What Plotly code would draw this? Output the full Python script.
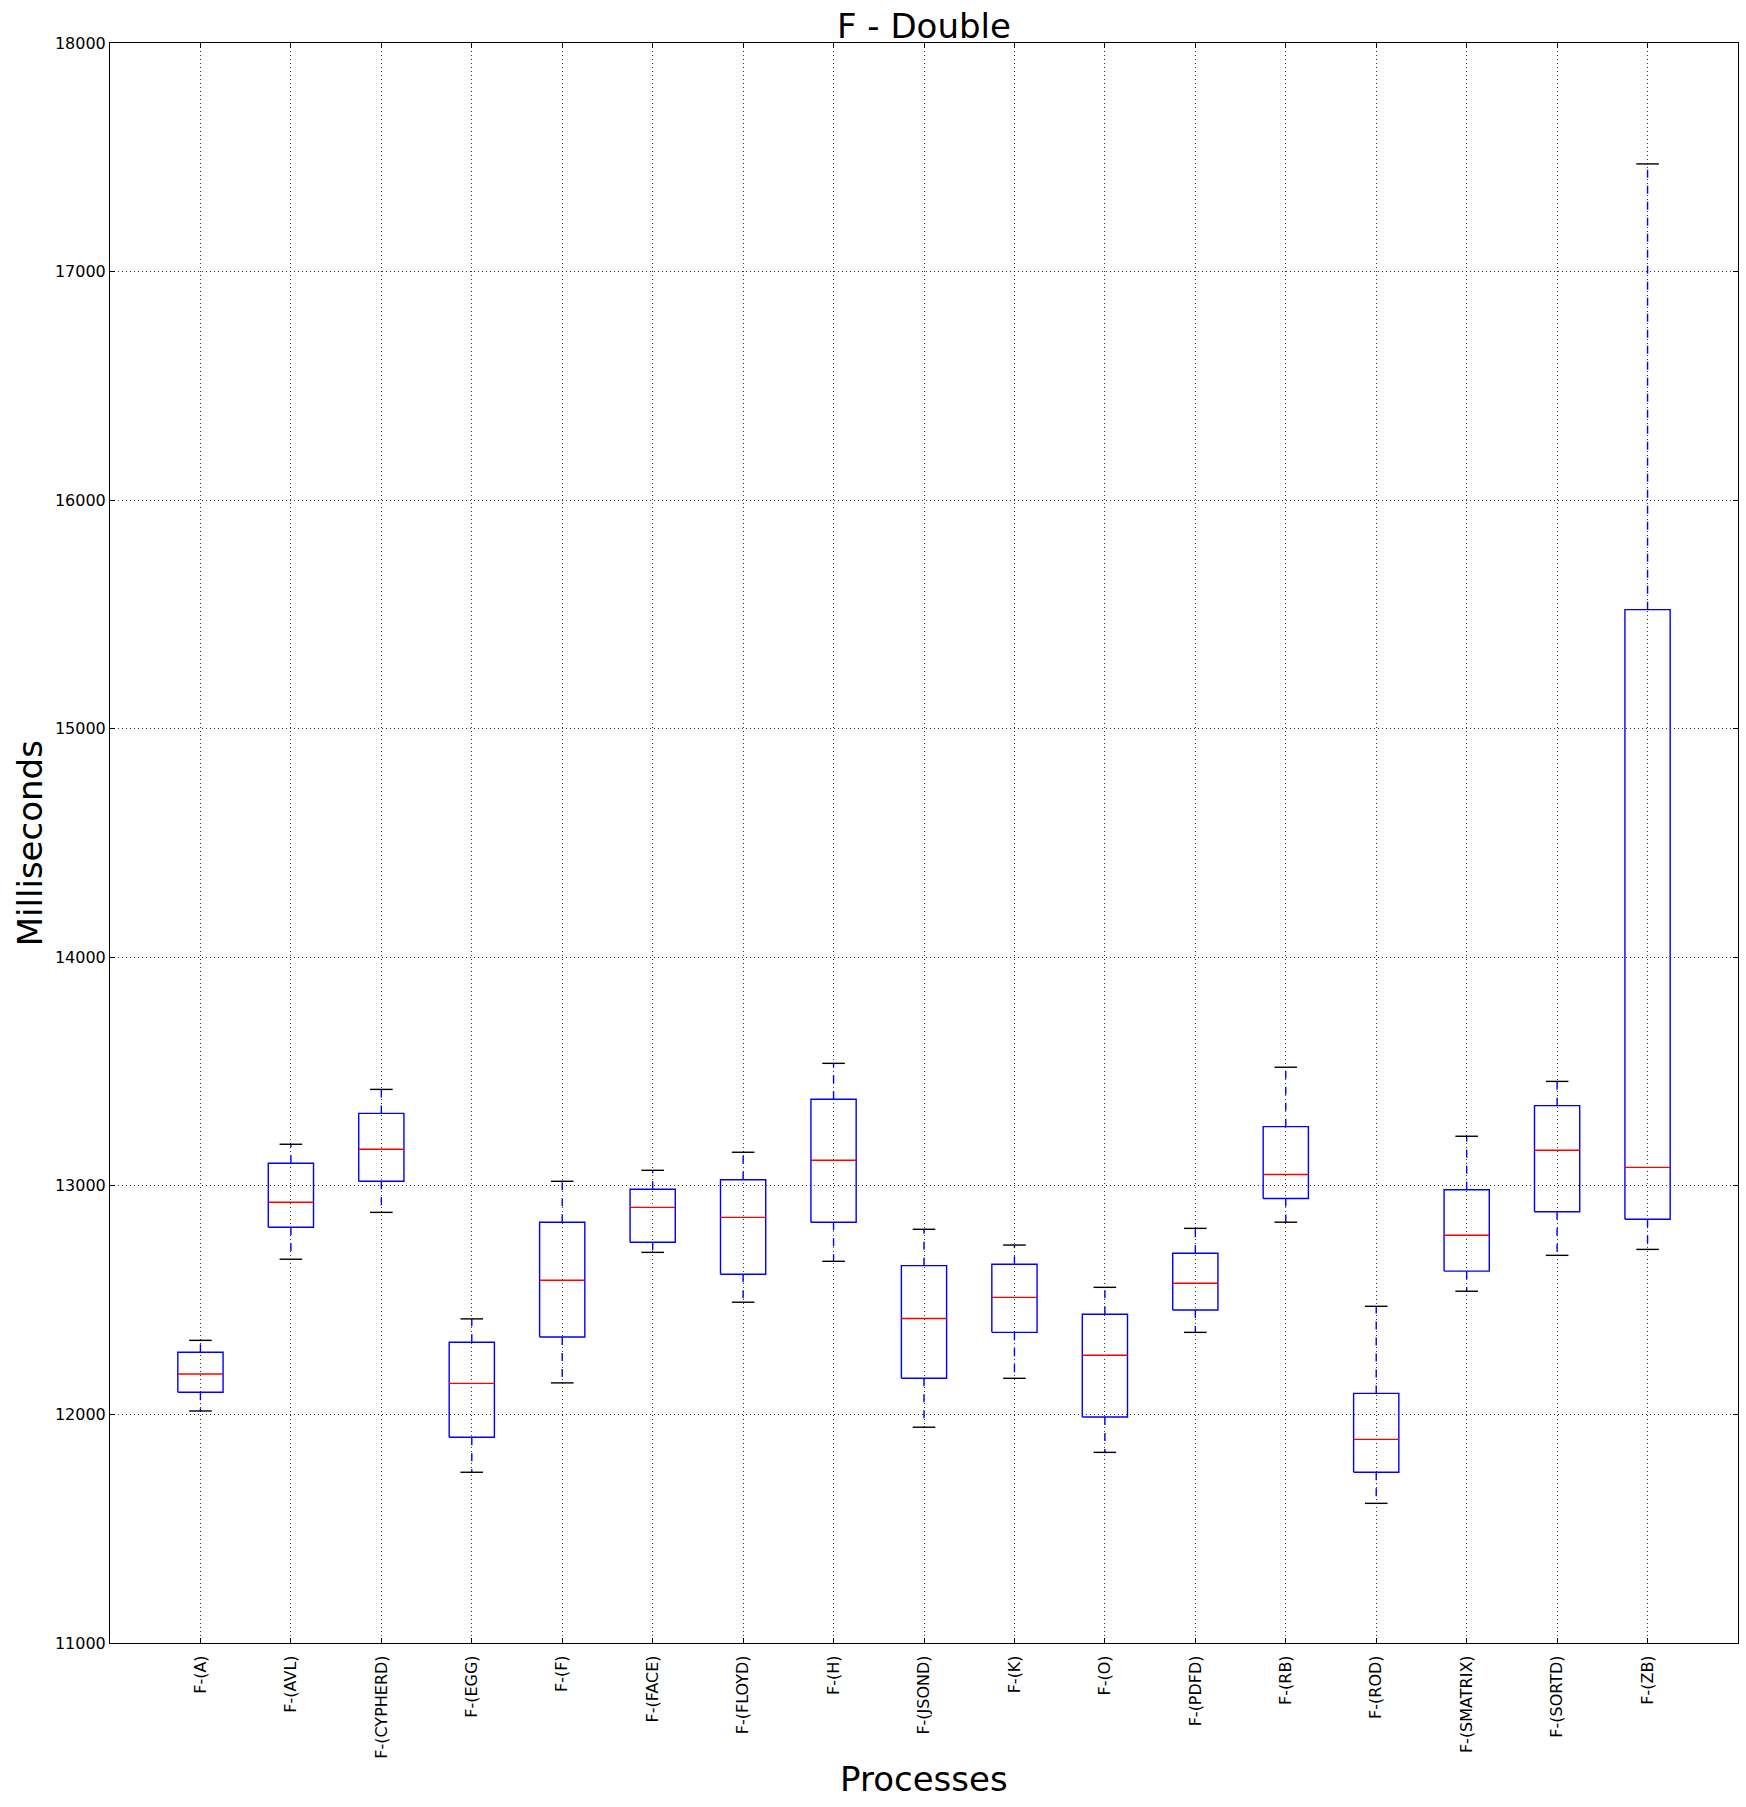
import plotly.graph_objects as go

categories = ["F-(A)", "F-(AVL)", "F-(CYPHERD)", "F-(EGG)", "F-(F)", "F-(FACE)",
              "F-(FLOYD)", "F-(H)", "F-(JSOND)", "F-(K)", "F-(O)", "F-(PDFD)",
              "F-(RB)", "F-(ROD)", "F-(SMATRIX)", "F-(SORTD)", "F-(ZB)"]
whisker_low = [12015, 12679, 12884, 11747, 12138, 12709, 12491, 12670, 11944,
               12158, 11834, 12359, 12841, 11611, 12539, 12696, 12722]
q1 = [12097, 12819, 13020, 11900, 12339, 12753, 12613, 12841, 12158,
      12359, 11989, 12457, 12945, 11747, 12627, 12887, 12854]
median = [12177, 12928, 13160, 12136, 12587, 12906, 12862, 13112, 12420,
          12512, 12259, 12574, 13050, 11891, 12784, 13156, 13081]
q3 = [12272, 13099, 13317, 12316, 12841, 12985, 13027, 13379, 12651,
      12657, 12438, 12705, 13259, 12092, 12983, 13351, 15521]
whisker_high = [12324, 13182, 13422, 12418, 13020, 13068, 13147, 13536, 12810,
                12741, 12556, 12814, 13519, 12473, 13217, 13457, 17471]
y_ticks = [11000, 12000, 13000, 14000, 15000, 16000, 17000, 18000]

positions = list(range(1, len(categories) + 1))
BOX_HALF = 0.25
CAP_HALF = 0.125
LW = 1.4

box_x, box_y = [], []
med_x, med_y = [], []
wh_x, wh_y = [], []
cap_x, cap_y = [], []
for p, lo, a, m, b, hi in zip(positions, whisker_low, q1, median, q3, whisker_high):
    box_x += [p - BOX_HALF, p + BOX_HALF, p + BOX_HALF, p - BOX_HALF, p - BOX_HALF, None]
    box_y += [a, a, b, b, a, None]
    med_x += [p - BOX_HALF, p + BOX_HALF, None]
    med_y += [m, m, None]
    wh_x += [p, p, None, p, p, None]
    wh_y += [b, hi, None, a, lo, None]
    cap_x += [p - CAP_HALF, p + CAP_HALF, None, p - CAP_HALF, p + CAP_HALF, None]
    cap_y += [hi, hi, None, lo, lo, None]

fig = go.Figure()
fig.add_trace(go.Scatter(x=wh_x, y=wh_y, mode="lines",
                         line=dict(color="blue", width=LW, dash="8px,8px"),
                         hoverinfo="skip"))
fig.add_trace(go.Scatter(x=cap_x, y=cap_y, mode="lines",
                         line=dict(color="black", width=LW), hoverinfo="skip"))
fig.add_trace(go.Scatter(x=box_x, y=box_y, mode="lines",
                         line=dict(color="blue", width=LW), hoverinfo="skip"))
fig.add_trace(go.Scatter(x=med_x, y=med_y, mode="lines",
                         line=dict(color="red", width=LW), hoverinfo="skip"))

axis_common = dict(
    showline=True, linecolor="black", linewidth=1, mirror="allticks",
    ticks="inside", ticklen=5, tickwidth=1, tickcolor="black",
    showgrid=True, gridcolor="rgba(0,0,0,0.8)", gridwidth=1, griddash="1px,3px",
    zeroline=False, tickfont=dict(size=16, color="black", family="DejaVu Sans"),
)
fig.update_xaxes(range=[0, len(categories) + 1], tickmode="array",
                 tickvals=positions, ticktext=categories, tickangle=-90,
                 ticklabelstandoff=5, **axis_common)
fig.update_yaxes(range=[y_ticks[0], y_ticks[-1]], tickmode="array",
                 tickvals=y_ticks, ticktext=[str(v) for v in y_ticks],
                 **axis_common)

fig.update_layout(
    width=1746, height=1807,
    margin=dict(l=110, r=8, t=43, b=164, autoexpand=False),
    plot_bgcolor="white", paper_bgcolor="white", showlegend=False,
    font=dict(family="DejaVu Sans", color="black"),
    annotations=[
        dict(text="F - Double", x=0.5, y=1, xref="paper", yref="paper",
             xanchor="center", yanchor="bottom", showarrow=False,
             font=dict(size=34), yshift=-5),
        dict(text="Processes", x=0.5, y=-0.085, xref="paper", yref="paper",
             xanchor="center", yanchor="middle", showarrow=False,
             font=dict(size=34)),
        dict(text="Milliseconds", x=-0.049, y=0.5, xref="paper", yref="paper",
             xanchor="center", yanchor="middle", showarrow=False,
             textangle=-90, font=dict(size=34)),
    ],
)

fig.write_html("out.html")
